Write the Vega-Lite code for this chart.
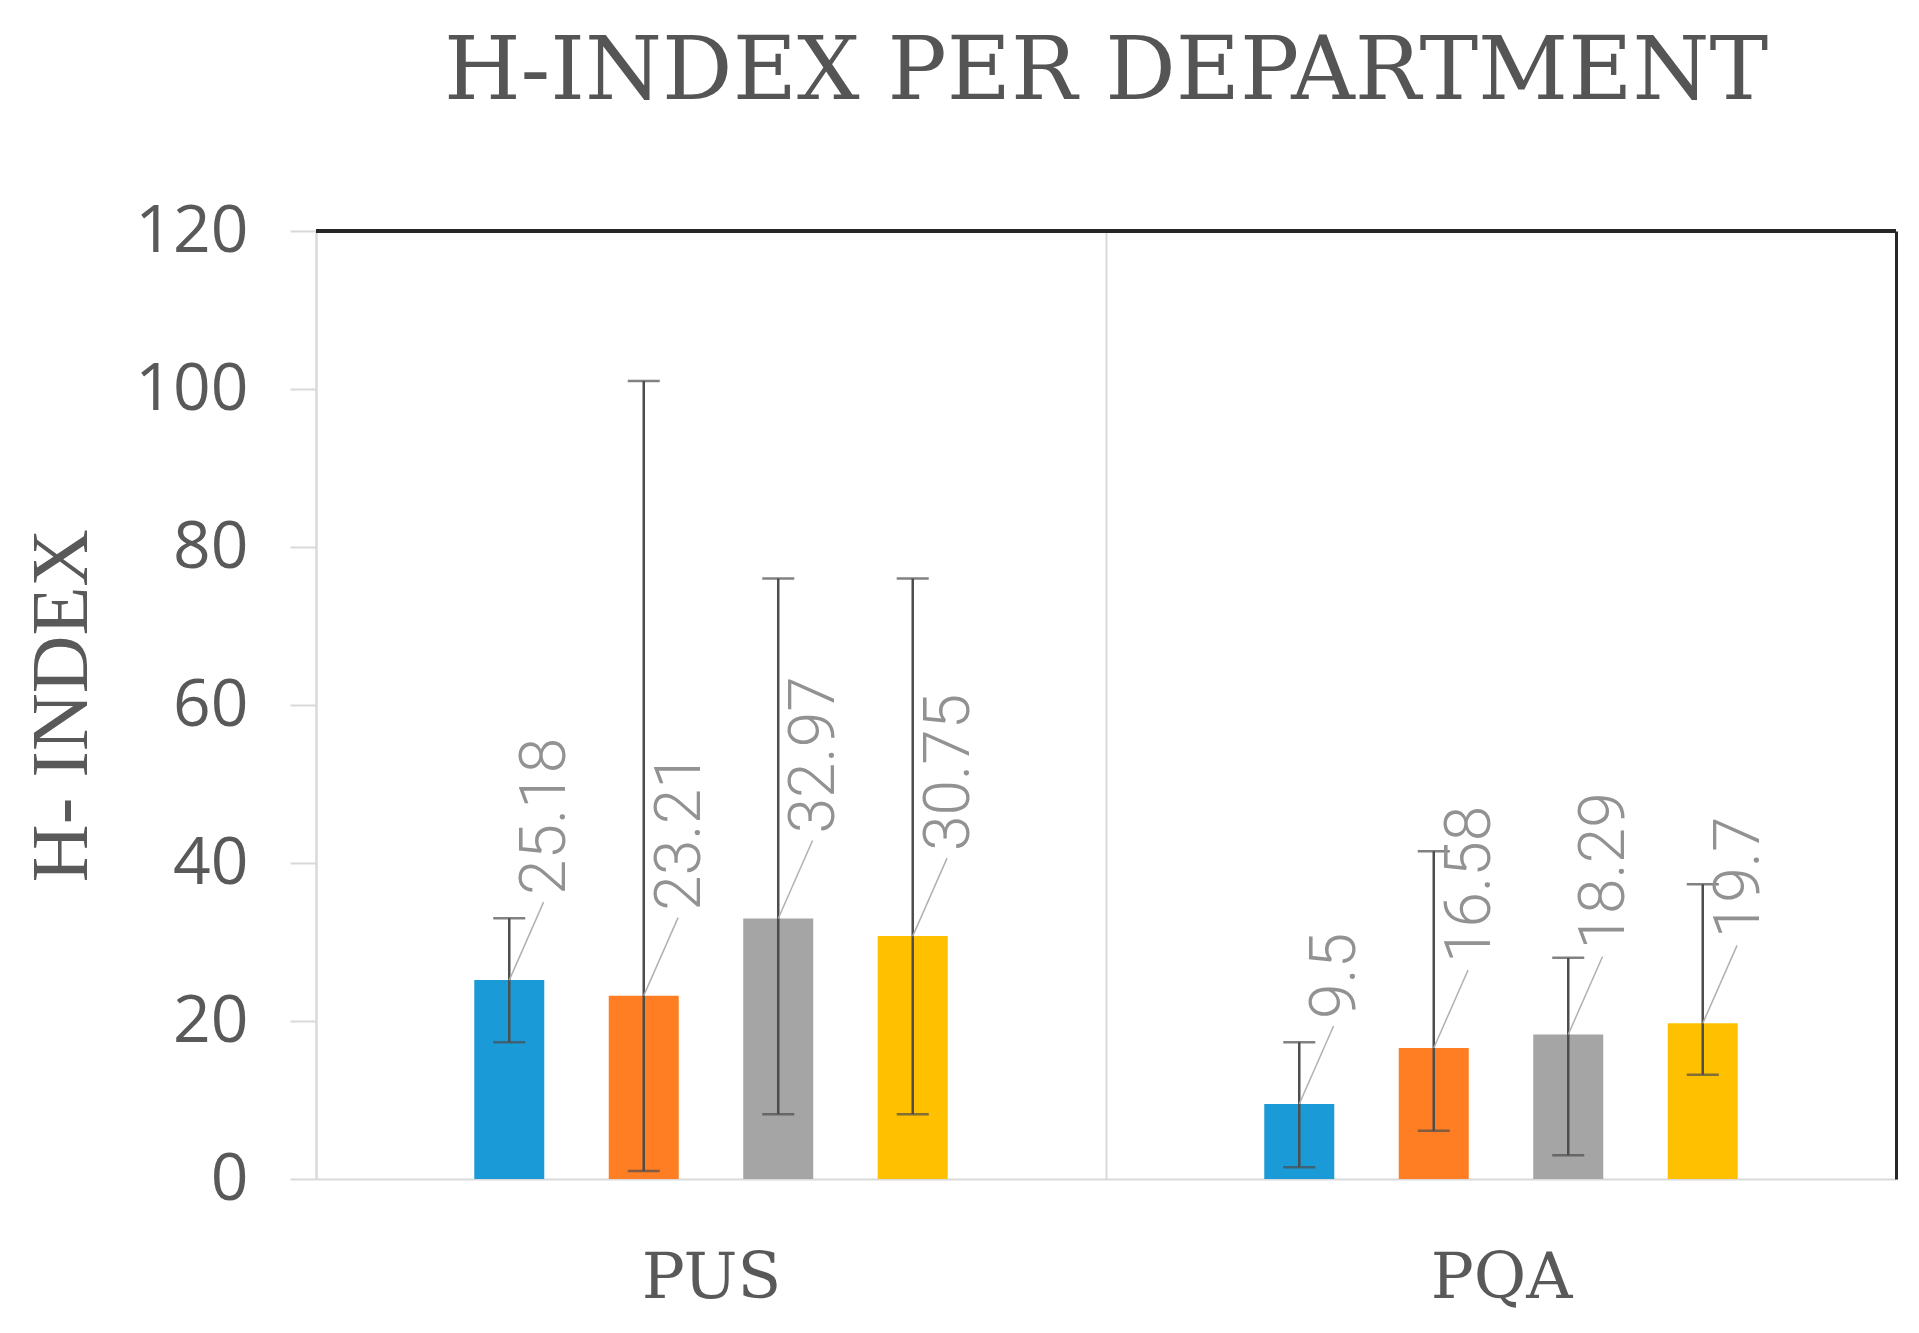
{
  "$schema": "https://vega.github.io/schema/vega-lite/v6.json",
  "autosize": {"type": "none"},
  "width": 1580,
  "height": 948,
  "padding": {"left": 316, "top": 231, "right": 23, "bottom": 154},
  "background": "white",
  "title": {
    "text": "H-INDEX PER DEPARTMENT",
    "font": "DejaVu Serif",
    "fontSize": 88,
    "fontWeight": "normal",
    "color": "#555555",
    "anchor": "middle",
    "frame": "group",
    "baseline": "alphabetic",
    "offset": 11
  },
  "config": {
    "view": {"stroke": null}
  },
  "data": {
    "values": [
      {"dept": "PUS", "series": "Series 1", "value": 25.18, "lo": 17.3, "hi": 33},
      {"dept": "PUS", "series": "Series 2", "value": 23.21, "lo": 1, "hi": 101},
      {"dept": "PUS", "series": "Series 3", "value": 32.97, "lo": 8.2, "hi": 76},
      {"dept": "PUS", "series": "Series 4", "value": 30.75, "lo": 8.2, "hi": 76},
      {"dept": "PQA", "series": "Series 1", "value": 9.5, "lo": 1.5, "hi": 17.3},
      {"dept": "PQA", "series": "Series 2", "value": 16.58, "lo": 6.1, "hi": 41.5},
      {"dept": "PQA", "series": "Series 3", "value": 18.29, "lo": 3, "hi": 28},
      {"dept": "PQA", "series": "Series 4", "value": 19.7, "lo": 13.2, "hi": 37.3}
    ]
  },
  "encoding": {
    "x": {
      "field": "dept",
      "type": "nominal",
      "sort": ["PUS", "PQA"],
      "scale": {"paddingInner": 0, "paddingOuter": 0},
      "axis": {
        "title": null,
        "labelAngle": 0,
        "labelFont": "DejaVu Serif",
        "labelFontSize": 64,
        "labelColor": "#595959",
        "labelBaseline": "alphabetic",
        "labelPadding": 118,
        "ticks": false,
        "tickSize": 0,
        "domainColor": "#d9d9d9",
        "domainWidth": 2,
        "grid": true,
        "gridColor": "#d9d9d9",
        "gridWidth": 2,
        "tickBand": "extent"
      }
    },
    "xOffset": {
      "field": "series",
      "type": "nominal",
      "scale": {"paddingInner": 0.126, "paddingOuter": 1}
    }
  },
  "layer": [
    {
      "mark": {"type": "bar", "width": 70},
      "encoding": {
        "y": {
          "field": "value",
          "type": "quantitative",
          "scale": {"domain": [0, 120], "nice": false},
          "axis": {
            "title": "H- INDEX",
            "titleFont": "Liberation Serif",
            "titleFontSize": 80,
            "titleFontWeight": "normal",
            "titleColor": "#595959",
            "titleBaseline": "alphabetic",
            "titlePadding": 48,
            "values": [0, 20, 40, 60, 80, 100, 120],
            "labelFont": "Open Sans",
            "labelFontSize": 66,
            "labelColor": "#595959",
            "labelPadding": 42,
            "tickSize": 26,
            "tickColor": "#d9d9d9",
            "tickWidth": 2,
            "domainColor": "#d9d9d9",
            "domainWidth": 2,
            "grid": false
          }
        },
        "color": {
          "field": "series",
          "type": "nominal",
          "scale": {"range": ["#1A9AD6", "#FF7D23", "#A5A5A5", "#FFC000"]},
          "legend": null
        }
      }
    },
    {
      "mark": {"type": "rule", "color": "#4d4d4d", "strokeWidth": 2.5},
      "encoding": {
        "y": {
          "field": "lo",
          "type": "quantitative",
          "axis": {
            "orient": "right",
            "title": null,
            "labels": false,
            "ticks": false,
            "grid": false,
            "domainColor": "#262626",
            "domainWidth": 3,
            "zindex": 1
          }
        },
        "y2": {"field": "hi"}
      }
    },
    {
      "mark": {"type": "tick", "color": "#4d4d4d", "thickness": 2.5, "size": 32, "orient": "horizontal"},
      "encoding": {"y": {"field": "lo", "type": "quantitative", "axis": null}}
    },
    {
      "mark": {"type": "tick", "color": "#4d4d4d", "thickness": 2.5, "size": 32, "orient": "horizontal"},
      "encoding": {"y": {"field": "hi", "type": "quantitative", "axis": null}}
    },
    {
      "mark": {
        "type": "point",
        "shape": "M0,0L0.44,-1",
        "size": 24336,
        "filled": false,
        "stroke": "#b0b0b0",
        "strokeWidth": 1.5,
        "opacity": 1
      },
      "encoding": {"y": {"field": "value", "type": "quantitative", "axis": null}}
    },
    {
      "mark": {
        "type": "text",
        "angle": 270,
        "align": "left",
        "baseline": "middle",
        "dx": 85,
        "dy": 37,
        "font": "Roboto",
        "fontWeight": 300,
        "fontSize": 64,
        "color": "#929292"
      },
      "encoding": {
        "y": {"field": "value", "type": "quantitative", "axis": null},
        "text": {"field": "value", "type": "nominal"}
      }
    },
    {
      "mark": {"type": "rule", "color": "#262626", "strokeWidth": 3},
      "encoding": {"y": {"datum": 120, "type": "quantitative", "axis": null}, "x": null, "xOffset": null}
    }
  ],
  "resolve": {"axis": {"y": "independent"}}
}
